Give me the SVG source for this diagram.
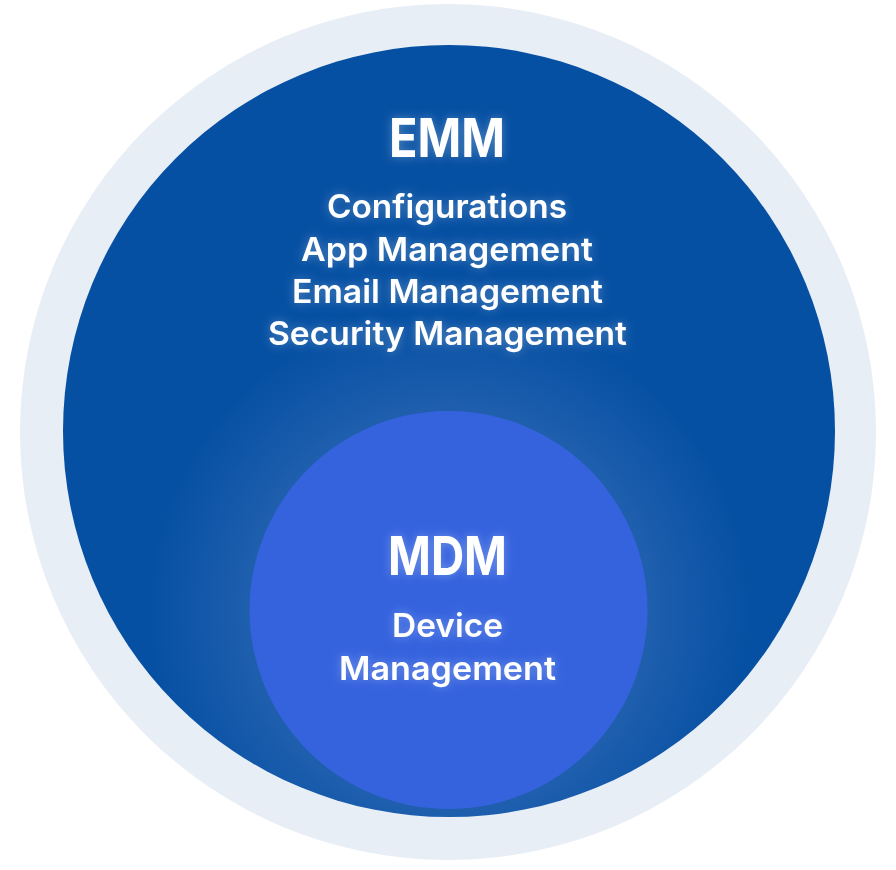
<svg xmlns="http://www.w3.org/2000/svg" width="896" height="870" viewBox="0 0 896 870">
<defs>
<radialGradient id="halo" gradientUnits="userSpaceOnUse" cx="449" cy="610" r="300">
<stop offset="0" stop-color="#2c6cc0"/>
<stop offset="0.66" stop-color="#1f5fae"/>
<stop offset="1" stop-color="#0650a3"/>
</radialGradient>
<filter id="glow" x="-20%" y="-40%" width="140%" height="180%">
<feGaussianBlur in="SourceAlpha" stdDeviation="5" result="b"/>
<feFlood flood-color="#ffffff" flood-opacity="0.3"/>
<feComposite in2="b" operator="in" result="g"/>
<feMerge><feMergeNode in="g"/><feMergeNode in="SourceGraphic"/></feMerge>
</filter>
<style>
text{font-family:Inter,"Open Sans","Liberation Sans",sans-serif;fill:#ffffff;text-anchor:middle;}
.t{font-size:54px;font-weight:700;}
.s{font-size:33px;font-weight:600;}
</style>
</defs>
<g id="outer">
<circle cx="448" cy="432" r="428" fill="#e8eef6"/>
</g>
<g id="emm">
<circle cx="449" cy="431" r="386" fill="url(#halo)"/>
<g filter="url(#glow)">
<text class="t" x="447" y="157" textLength="116" lengthAdjust="spacingAndGlyphs">EMM</text>
<text class="s" x="447" y="218" textLength="240" lengthAdjust="spacingAndGlyphs">Configurations</text>
<text class="s" x="447" y="261" textLength="292" lengthAdjust="spacingAndGlyphs">App Management</text>
<text class="s" x="447.5" y="303" textLength="311" lengthAdjust="spacingAndGlyphs">Email Management</text>
<text class="s" x="447.5" y="345" textLength="359" lengthAdjust="spacingAndGlyphs">Security Management</text>
</g>
</g>
<g id="mdm">
<circle cx="448.5" cy="610" r="199" fill="#3563de"/>
<g filter="url(#glow)">
<text class="t" x="447.5" y="575" textLength="119" lengthAdjust="spacingAndGlyphs">MDM</text>
<text class="s" x="447.5" y="637" textLength="111" lengthAdjust="spacingAndGlyphs">Device</text>
<text class="s" x="447.5" y="680" textLength="217" lengthAdjust="spacingAndGlyphs">Management</text>
</g>
</g>
<g id="connectors"/>
</svg>
